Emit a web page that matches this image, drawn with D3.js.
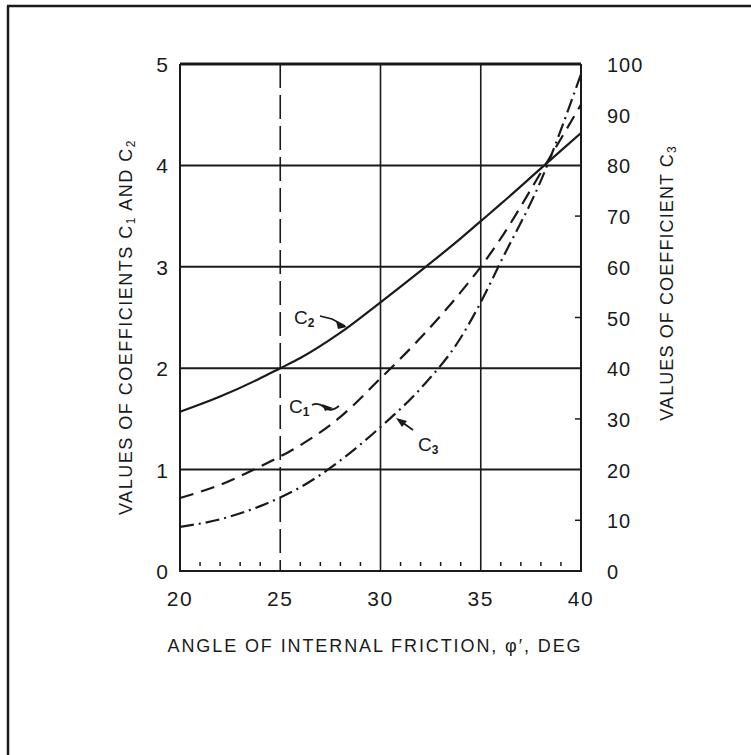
<!DOCTYPE html>
<html><head><meta charset="utf-8">
<script src="https://cdn.jsdelivr.net/npm/d3@7"></script>
<style>body{margin:0;background:#fff}svg{display:block}</style>
</head><body><svg id="c" width="751" height="755"></svg>
<script>
// ---- data ----
const angles   = [20, 22, 24, 25, 26, 28, 30, 32, 34, 35, 36, 38, 40];
const c2Values = [1.57, 1.72, 1.90, 2.00, 2.10, 2.35, 2.65, 2.96, 3.28, 3.45, 3.62, 3.97, 4.32];
const c1Values = [0.72, 0.85, 1.03, 1.13, 1.24, 1.52, 1.90, 2.30, 2.75, 3.00, 3.28, 3.93, 4.60];
const c3Values = [8.7, 10.2, 12.8, 14.5, 16.5, 21.8, 28.4, 36.0, 46.0, 53.0, 61.0, 77.0, 98.0];
const xTicks = [20, 25, 30, 35, 40];
const xMinor = [21,22,23,24,26,27,28,29,31,32,33,34,36,37,38,39];
const yLeftTicks = [0, 1, 2, 3, 4, 5];
const yRightTicks = [0, 10, 20, 30, 40, 50, 60, 70, 80, 90, 100];
const yRightMinor = [10, 30, 50, 70];

const svg = d3.select("#c");
const x = d3.scaleLinear().domain([20, 40]).range([180, 581]);
const yL = d3.scaleLinear().domain([0, 5]).range([571, 64]);
const yR = d3.scaleLinear().domain([0, 100]).range([571, 64]);
const ink = "#1a1a1a";
const font = "'Liberation Sans', Arial, sans-serif";

// outer frame (top and left edges)
svg.append("line").attr("x1", 7).attr("x2", 751).attr("y1", 6).attr("y2", 6)
  .attr("stroke", ink).attr("stroke-width", 2.5);
svg.append("line").attr("x1", 8).attr("x2", 8).attr("y1", 6).attr("y2", 755)
  .attr("stroke", ink).attr("stroke-width", 2.5);

// horizontal grid
svg.append("g").selectAll("line").data(yLeftTicks.filter(d => d > 0)).join("line")
  .attr("x1", x(20)).attr("x2", x(40)).attr("y1", d => yL(d)).attr("y2", d => yL(d))
  .attr("stroke", ink).attr("stroke-width", d => d === 5 ? 3 : 2);

// vertical grid
svg.append("g").selectAll("line").data([25, 30, 35]).join("line")
  .attr("x1", d => x(d)).attr("x2", d => x(d)).attr("y1", yL(5)).attr("y2", yL(0))
  .attr("stroke", ink).attr("stroke-width", 1.6)
  .attr("stroke-dasharray", d => d === 25 ? "24,7" : null);

// plot frame
svg.append("path")
  .attr("d", `M${x(20)},${yL(5)}V${yL(0)}H${x(40)}V${yL(5)}`)
  .attr("fill", "none").attr("stroke", ink).attr("stroke-width", 2);

// minor ticks bottom
svg.append("g").selectAll("line").data(xMinor).join("line")
  .attr("x1", d => x(d)).attr("x2", d => x(d)).attr("y1", yL(0) - 9).attr("y2", yL(0) - 5)
  .attr("stroke", ink).attr("stroke-width", 1.5);

// minor ticks right
svg.append("g").selectAll("line").data(yRightMinor).join("line")
  .attr("x1", x(40) - 6).attr("x2", x(40)).attr("y1", d => yR(d)).attr("y2", d => yR(d))
  .attr("stroke", ink).attr("stroke-width", 1.5);

// tick labels
svg.append("g").selectAll("text").data(xTicks).join("text")
  .attr("x", d => x(d)).attr("y", 606).attr("text-anchor", "middle")
  .attr("font-family", font).attr("font-size", 21).attr("letter-spacing", 1.5).attr("fill", ink).text(d => d);
svg.append("g").selectAll("text").data(yLeftTicks).join("text")
  .attr("x", 168).attr("y", d => yL(d) + 8).attr("text-anchor", "end")
  .attr("font-family", font).attr("font-size", 21).attr("fill", ink).text(d => d);
svg.append("g").selectAll("text").data(yRightTicks).join("text")
  .attr("x", 607).attr("y", d => yR(d) + 8).attr("text-anchor", "start")
  .attr("font-family", font).attr("font-size", 20).attr("letter-spacing", 1).attr("fill", ink)
  .text(d => d);

// curves
const line = scale => d3.line().x((d, i) => x(angles[i])).y(d => scale(d)).curve(d3.curveMonotoneX);
svg.append("path").datum(c2Values).attr("d", line(yL))
  .attr("fill", "none").attr("stroke", ink).attr("stroke-width", 2.2);
svg.append("path").datum(c1Values).attr("d", line(yL))
  .attr("fill", "none").attr("stroke", ink).attr("stroke-width", 2.2).attr("stroke-dasharray", "14,8");
svg.append("path").datum(c3Values).attr("d", line(yR))
  .attr("fill", "none").attr("stroke", ink).attr("stroke-width", 2.2).attr("stroke-dasharray", "14,5,2,5");

// curve labels with leaders
function sublabel(tx, ty, sub) {
  const t = svg.append("text").attr("x", tx).attr("y", ty)
    .attr("font-family", font).attr("font-size", 19).attr("fill", ink);
  t.append("tspan").text("C");
  t.append("tspan").attr("font-size", 12).attr("font-weight", "bold").attr("dy", 3).text(sub);
}
sublabel(294, 324, "2");
svg.append("path").attr("d", "M320,316 L332,319 L345,326").attr("fill", "none").attr("stroke", ink).attr("stroke-width", 1.8);
svg.append("path").attr("d", "M336,321 L347,327 L338,329 Z").attr("fill", ink);

sublabel(289, 413, "1");
svg.append("path").attr("d", "M312,405 Q318,402 324,407 Q330,413 339,406").attr("fill", "none").attr("stroke", ink).attr("stroke-width", 1.8);
svg.append("path").attr("d", "M322,404 L333,408 L325,411 Z").attr("fill", ink);

sublabel(418, 451, "3");
svg.append("path").attr("d", "M413,430 L399,420").attr("fill", "none").attr("stroke", ink).attr("stroke-width", 1.8);
svg.append("path").attr("d", "M396,418 L407,421 L402,427 Z").attr("fill", ink);

// axis titles
const lt = svg.append("text").attr("transform", "translate(132,327) rotate(-90)")
  .attr("text-anchor", "middle").attr("font-family", font).attr("font-size", 18)
  .attr("letter-spacing", 1.5).attr("fill", ink);
lt.append("tspan").text("VALUES OF COEFFICIENTS C");
lt.append("tspan").attr("font-size", 12).attr("dy", 3).text("1");
lt.append("tspan").attr("dy", -3).text(" AND C");
lt.append("tspan").attr("font-size", 12).attr("dy", 3).text("2");

const rt = svg.append("text").attr("transform", "translate(673,283) rotate(-90)")
  .attr("text-anchor", "middle").attr("font-family", font).attr("font-size", 18)
  .attr("letter-spacing", 1.1).attr("fill", ink);
rt.append("tspan").text("VALUES OF COEFFICIENT C");
rt.append("tspan").attr("font-size", 12).attr("dy", 3).text("3");

svg.append("text").attr("x", 375).attr("y", 652).attr("text-anchor", "middle")
  .attr("font-family", font).attr("font-size", 18).attr("letter-spacing", 1.9).attr("fill", ink)
  .text("ANGLE OF INTERNAL FRICTION, \u03C6\u2032, DEG");
</script></body></html>
